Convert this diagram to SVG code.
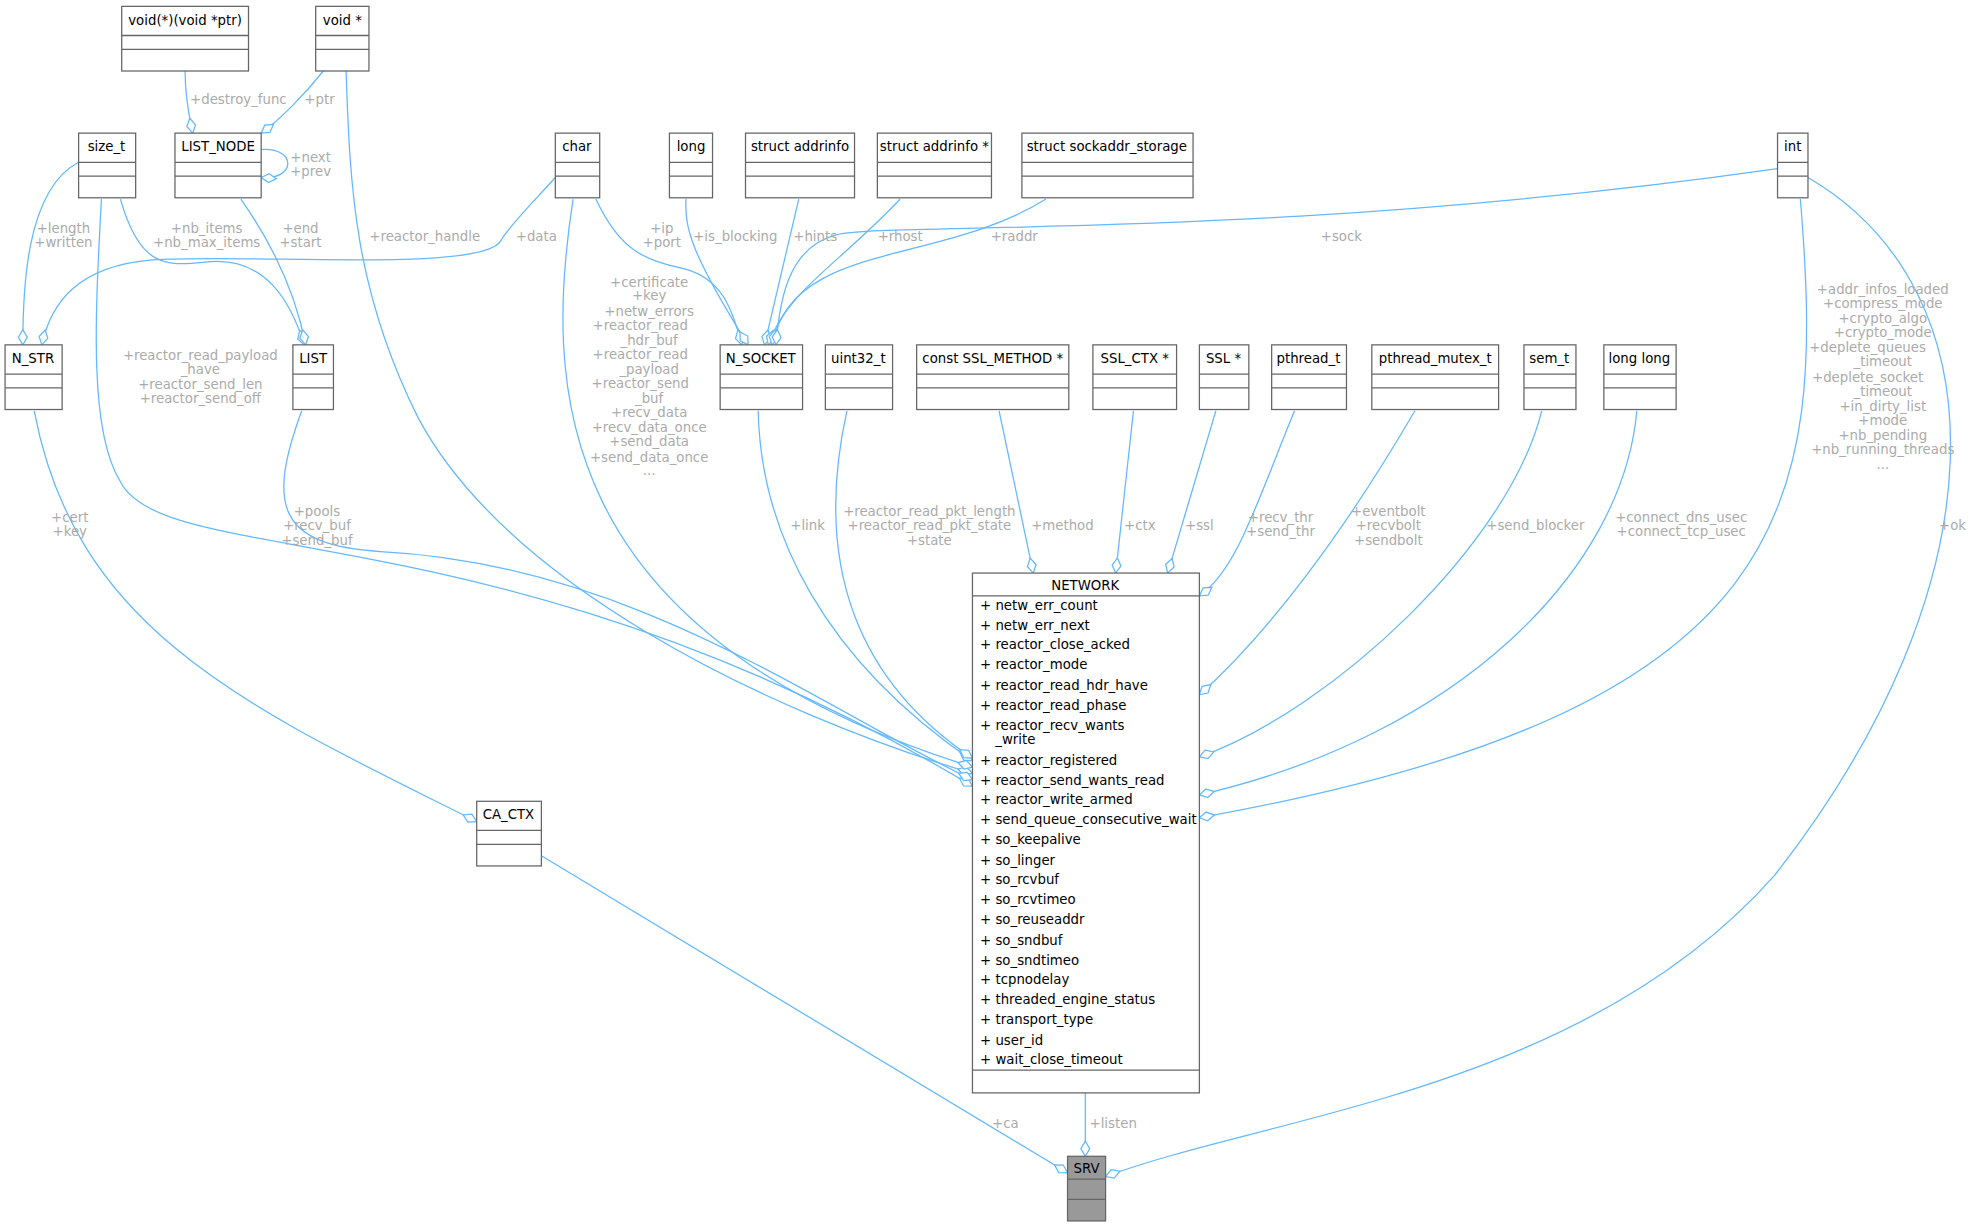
<svg xmlns="http://www.w3.org/2000/svg" width="1988" height="1227" viewBox="0 0 1988 1227">
<style>
.b{fill:#fff;stroke:#666;stroke-width:1}
.s{fill:#999}
.t{font-family:"DejaVu Sans",sans-serif;font-size:10.5px;fill:#000}
.l{font-family:"DejaVu Sans",sans-serif;font-size:10.5px;fill:#ababab;text-anchor:middle}
.e{fill:none;stroke:#63b8ff;stroke-width:1;marker-end:url(#d)}
</style>
<defs>
<marker id="d" viewBox="-1 -5 14 10" refX="12" refY="0" markerWidth="14" markerHeight="10" orient="auto" markerUnits="userSpaceOnUse">
<path d="M0,0 L6,-3.5 L12,0 L6,3.5 Z" fill="#fff" stroke="#63b8ff"/>
</marker>
</defs>
<rect width="1988" height="1227" fill="#fff"/>
<g transform="scale(1.26786)">
<g id="connectors">
<path class="e" d="M146,56 C146,80 150,95 152,105"/>
<path class="e" d="M255,56 C240,75 220,95 206,105"/>
<path class="e" d="M206,118 C234,116 234,142 206,140"/>
<path class="e" d="M62,128 C20,150 18,230 18,272"/>
<path class="e" d="M95,157 C110,210 130,210 160,207 C210,200 230,240 240,272"/>
<path class="e" d="M190,157 C220,200 235,240 241,272"/>
<path class="e" d="M438,140 C420,160 400,180 395,190 C380,215 200,200 120,205 C60,210 40,240 33,272"/>
<path class="e" d="M273,56 C276,150 280,230 330,330 C400,460 600,560 767,610"/>
<path class="e" d="M80,157 C75,250 70,340 95,380 C130,450 400,400 767,620"/>
<path class="e" d="M238,324 C210,400 220,430 300,435 C500,445 650,560 767,615"/>
<path class="e" d="M452,157 C430,300 430,500 767,605"/>
<path class="e" d="M470,157 C490,200 510,205 540,212 C570,220 578,245 585,272"/>
<path class="e" d="M541,157 C540,180 545,200 590,272"/>
<path class="e" d="M630,157 L603,272"/>
<path class="e" d="M710,157 C660,210 620,230 606,272"/>
<path class="e" d="M825,157 C740,210 625,190 609,272"/>
<path class="e" d="M1402,133 C1000,190 700,175 660,185 C620,195 615,240 612,272"/>
<path class="e" d="M598,324 C600,420 650,520 767,600"/>
<path class="e" d="M668,324 C640,450 680,540 767,598"/>
<path class="e" d="M788,324 L815,452"/>
<path class="e" d="M894,324 L880,452"/>
<path class="e" d="M959,324 L921,452"/>
<path class="e" d="M1021,324 C990,400 975,450 946,470"/>
<path class="e" d="M1116,324 C1060,420 1000,500 946,548"/>
<path class="e" d="M1216,324 C1190,430 1050,560 946,597"/>
<path class="e" d="M1291,324 C1280,450 1150,580 946,627"/>
<path class="e" d="M1420,157 C1440,400 1420,560 946,645"/>
<path class="e" d="M1426,140 C1580,230 1580,460 1400,690 C1250,860 1000,880 872,928"/>
<path class="e" d="M27,324 C60,500 200,560 376,648"/>
<path class="e" d="M427,675 L842,925"/>
<path class="e" d="M856,862 L856,912"/>
<text class="l" x="188" y="82">+destroy_func</text>
<text class="l" x="252" y="82">+ptr</text>
<text class="l" x="245" y="128">+next</text><text class="l" x="245" y="139">+prev</text>
<text class="l" x="50" y="184">+length</text><text class="l" x="50" y="195">+written</text>
<text class="l" x="163" y="184">+nb_items</text><text class="l" x="163" y="195">+nb_max_items</text>
<text class="l" x="237" y="184">+end</text><text class="l" x="237" y="195">+start</text>
<text class="l" x="423" y="190">+data</text>
<text class="l" x="335" y="190">+reactor_handle</text>
<text class="l" x="158" y="284">+reactor_read_payload</text><text class="l" x="158" y="295">_have</text><text class="l" x="158" y="307">+reactor_send_len</text><text class="l" x="158" y="318">+reactor_send_off</text>
<text class="l" x="250" y="407">+pools</text><text class="l" x="250" y="418">+recv_buf</text><text class="l" x="250" y="430">+send_buf</text>
<text class="l" x="512" y="226">+certificate</text><text class="l" x="512" y="237">+key</text><text class="l" x="512" y="249">+netw_errors</text><text class="l" x="505" y="260">+reactor_read</text><text class="l" x="512" y="272">_hdr_buf</text><text class="l" x="505" y="283">+reactor_read</text><text class="l" x="512" y="295">_payload</text><text class="l" x="505" y="306">+reactor_send</text><text class="l" x="512" y="318">_buf</text><text class="l" x="512" y="329">+recv_data</text><text class="l" x="512" y="341">+recv_data_once</text><text class="l" x="512" y="352">+send_data</text><text class="l" x="512" y="364">+send_data_once</text><text class="l" x="512" y="375">...</text>
<text class="l" x="522" y="184">+ip</text><text class="l" x="522" y="195">+port</text>
<text class="l" x="580" y="190">+is_blocking</text>
<text class="l" x="643" y="190">+hints</text>
<text class="l" x="710" y="190">+rhost</text>
<text class="l" x="800" y="190">+raddr</text>
<text class="l" x="1058" y="190">+sock</text>
<text class="l" x="637" y="418">+link</text>
<text class="l" x="733" y="407">+reactor_read_pkt_length</text><text class="l" x="733" y="418">+reactor_read_pkt_state</text><text class="l" x="733" y="430">+state</text>
<text class="l" x="838" y="418">+method</text>
<text class="l" x="899" y="418">+ctx</text>
<text class="l" x="946" y="418">+ssl</text>
<text class="l" x="1010" y="412">+recv_thr</text><text class="l" x="1010" y="423">+send_thr</text>
<text class="l" x="1095" y="407">+eventbolt</text><text class="l" x="1095" y="418">+recvbolt</text><text class="l" x="1095" y="430">+sendbolt</text>
<text class="l" x="1211" y="418">+send_blocker</text>
<text class="l" x="1326" y="412">+connect_dns_usec</text><text class="l" x="1326" y="423">+connect_tcp_usec</text>
<text class="l" x="1485" y="232">+addr_infos_loaded</text><text class="l" x="1485" y="243">+compress_mode</text><text class="l" x="1485" y="255">+crypto_algo</text><text class="l" x="1485" y="266">+crypto_mode</text><text class="l" x="1473" y="278">+deplete_queues</text><text class="l" x="1485" y="289">_timeout</text><text class="l" x="1473" y="301">+deplete_socket</text><text class="l" x="1485" y="312">_timeout</text><text class="l" x="1485" y="324">+in_dirty_list</text><text class="l" x="1485" y="335">+mode</text><text class="l" x="1485" y="347">+nb_pending</text><text class="l" x="1485" y="358">+nb_running_threads</text><text class="l" x="1485" y="370">...</text>
<text class="l" x="1540" y="418">+ok</text>
<text class="l" x="55" y="412">+cert</text><text class="l" x="55" y="423">+key</text>
<text class="l" x="793" y="890">+ca</text>
<text class="l" x="878" y="890">+listen</text>
</g>
<g id="n_voidfn"><rect class="b" x="96" y="5" width="100" height="51"/><path class="b" d="M96,28H196M96,39H196"/><text class="t" x="146" y="20" text-anchor="middle">void(*)(void *ptr)</text></g>
<g id="n_voidp"><rect class="b" x="249" y="5" width="42" height="51"/><path class="b" d="M249,28H291M249,39H291"/><text class="t" x="270" y="20" text-anchor="middle">void *</text></g>
<g id="n_size_t"><rect class="b" x="62" y="105" width="45" height="51"/><path class="b" d="M62,128H107M62,139H107"/><text class="t" x="84" y="119" text-anchor="middle">size_t</text></g>
<g id="n_list_node"><rect class="b" x="138" y="105" width="68" height="51"/><path class="b" d="M138,128H206M138,139H206"/><text class="t" x="172" y="119" text-anchor="middle">LIST_NODE</text></g>
<g id="n_char"><rect class="b" x="438" y="105" width="35" height="51"/><path class="b" d="M438,128H473M438,139H473"/><text class="t" x="455" y="119" text-anchor="middle">char</text></g>
<g id="n_long"><rect class="b" x="528" y="105" width="34" height="51"/><path class="b" d="M528,128H562M528,139H562"/><text class="t" x="545" y="119" text-anchor="middle">long</text></g>
<g id="n_addrinfo"><rect class="b" x="588" y="105" width="86" height="51"/><path class="b" d="M588,128H674M588,139H674"/><text class="t" x="631" y="119" text-anchor="middle">struct addrinfo</text></g>
<g id="n_addrinfop"><rect class="b" x="692" y="105" width="90" height="51"/><path class="b" d="M692,128H782M692,139H782"/><text class="t" x="737" y="119" text-anchor="middle">struct addrinfo *</text></g>
<g id="n_sockaddr"><rect class="b" x="806" y="105" width="135" height="51"/><path class="b" d="M806,128H941M806,139H941"/><text class="t" x="873" y="119" text-anchor="middle">struct sockaddr_storage</text></g>
<g id="n_int"><rect class="b" x="1402" y="105" width="24" height="51"/><path class="b" d="M1402,128H1426M1402,139H1426"/><text class="t" x="1414" y="119" text-anchor="middle">int</text></g>
<g id="n_nstr"><rect class="b" x="4" y="272" width="45" height="51"/><path class="b" d="M4,295H49M4,306H49"/><text class="t" x="26" y="286" text-anchor="middle">N_STR</text></g>
<g id="n_list"><rect class="b" x="231" y="272" width="32" height="51"/><path class="b" d="M231,295H263M231,306H263"/><text class="t" x="247" y="286" text-anchor="middle">LIST</text></g>
<g id="n_nsocket"><rect class="b" x="568" y="272" width="65" height="51"/><path class="b" d="M568,295H633M568,306H633"/><text class="t" x="600" y="286" text-anchor="middle">N_SOCKET</text></g>
<g id="n_uint32"><rect class="b" x="651" y="272" width="53" height="51"/><path class="b" d="M651,295H704M651,306H704"/><text class="t" x="677" y="286" text-anchor="middle">uint32_t</text></g>
<g id="n_sslmethod"><rect class="b" x="723" y="272" width="120" height="51"/><path class="b" d="M723,295H843M723,306H843"/><text class="t" x="783" y="286" text-anchor="middle">const SSL_METHOD *</text></g>
<g id="n_sslctx"><rect class="b" x="862" y="272" width="66" height="51"/><path class="b" d="M862,295H928M862,306H928"/><text class="t" x="895" y="286" text-anchor="middle">SSL_CTX *</text></g>
<g id="n_ssl"><rect class="b" x="946" y="272" width="39" height="51"/><path class="b" d="M946,295H985M946,306H985"/><text class="t" x="965" y="286" text-anchor="middle">SSL *</text></g>
<g id="n_pthread"><rect class="b" x="1003" y="272" width="59" height="51"/><path class="b" d="M1003,295H1062M1003,306H1062"/><text class="t" x="1032" y="286" text-anchor="middle">pthread_t</text></g>
<g id="n_mutex"><rect class="b" x="1082" y="272" width="100" height="51"/><path class="b" d="M1082,295H1182M1082,306H1182"/><text class="t" x="1132" y="286" text-anchor="middle">pthread_mutex_t</text></g>
<g id="n_sem"><rect class="b" x="1202" y="272" width="41" height="51"/><path class="b" d="M1202,295H1243M1202,306H1243"/><text class="t" x="1222" y="286" text-anchor="middle">sem_t</text></g>
<g id="n_longlong"><rect class="b" x="1265" y="272" width="57" height="51"/><path class="b" d="M1265,295H1322M1265,306H1322"/><text class="t" x="1293" y="286" text-anchor="middle">long long</text></g>
<g id="n_ca_ctx"><rect class="b" x="376" y="632" width="51" height="51"/><path class="b" d="M376,655H427M376,666H427"/><text class="t" x="401" y="646" text-anchor="middle">CA_CTX</text></g>
<g id="n_network"><rect class="b" x="767" y="452" width="179" height="410"/><path class="b" d="M767,470H946M767,844H946"/>
<text class="t" x="856" y="465" text-anchor="middle">NETWORK</text>
<g class="t">
<text x="773" y="481">+  netw_err_count</text>
<text x="773" y="497">+  netw_err_next</text>
<text x="773" y="512">+  reactor_close_acked</text>
<text x="773" y="528">+  reactor_mode</text>
<text x="773" y="544">+  reactor_read_hdr_have</text>
<text x="773" y="560">+  reactor_read_phase</text>
<text x="773" y="576">+  reactor_recv_wants</text>
<text x="785" y="587">_write</text>
<text x="773" y="603">+  reactor_registered</text>
<text x="773" y="619">+  reactor_send_wants_read</text>
<text x="773" y="634">+  reactor_write_armed</text>
<text x="773" y="650">+  send_queue_consecutive_wait</text>
<text x="773" y="666">+  so_keepalive</text>
<text x="773" y="682">+  so_linger</text>
<text x="773" y="697">+  so_rcvbuf</text>
<text x="773" y="713">+  so_rcvtimeo</text>
<text x="773" y="729">+  so_reuseaddr</text>
<text x="773" y="745">+  so_sndbuf</text>
<text x="773" y="761">+  so_sndtimeo</text>
<text x="773" y="776">+  tcpnodelay</text>
<text x="773" y="792">+  threaded_engine_status</text>
<text x="773" y="808">+  transport_type</text>
<text x="773" y="824">+  user_id</text>
<text x="773" y="839">+  wait_close_timeout</text>
</g></g>
<g id="n_srv"><rect class="b s" x="842" y="912" width="30" height="51"/><path class="b" d="M842,930H872M842,946H872"/><text class="t" x="857" y="925" text-anchor="middle">SRV</text></g>
</g>
</svg>
